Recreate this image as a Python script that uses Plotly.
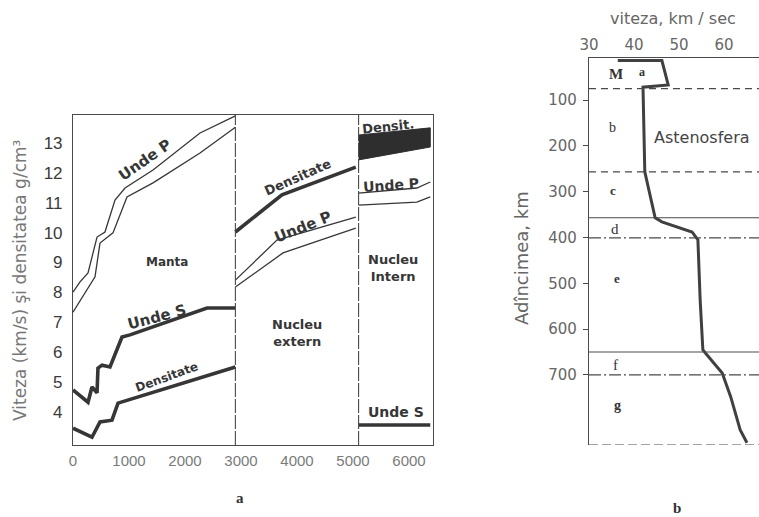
import plotly.graph_objects as go

W, H = 759, 517

# ---------------- Panel a data (depth in km, value) ----------------
p_up_mantle_km = [0, 125, 268, 429, 571, 750, 929, 1429, 2268, 2900]
p_up_mantle_v = [8.01, 8.35, 8.65, 9.85, 10.02, 11.09, 11.49, 12.09, 13.33, 13.90]
p_lo_mantle_km = [0, 214, 393, 482, 714, 964, 1429, 2268, 2900]
p_lo_mantle_v = [7.34, 7.98, 8.52, 9.65, 9.99, 11.19, 11.66, 12.66, 13.52]
s_mantle_km = [0, 268, 339, 429, 446, 518, 661, 875, 1018, 2393, 2900]
s_mantle_v = [4.74, 4.33, 4.84, 4.64, 5.47, 5.57, 5.51, 6.51, 6.58, 7.48, 7.48]
rho_mantle_km = [0, 339, 482, 696, 804, 2900]
rho_mantle_v = [3.46, 3.16, 3.67, 3.73, 4.30, 5.51]

rho_outer_km = [2900, 3732, 5050]
rho_outer_v = [10.02, 11.26, 12.19]
p_up_outer_km = [2900, 3643, 5050]
p_up_outer_v = [8.41, 9.75, 10.52]
p_lo_outer_km = [2900, 3750, 5050]
p_lo_outer_v = [8.18, 9.32, 10.15]

rho_inner_km = [5100, 6380]
rho_inner_top = [13.26, 13.50]
rho_inner_bot = [12.43, 12.86]
p_up_inner_km = [5100, 6140, 6380]
p_up_inner_v = [11.32, 11.49, 11.69]
p_lo_inner_km = [5100, 6140, 6380]
p_lo_inner_v = [10.92, 11.02, 11.19]
s_inner_km = [5100, 6380]
s_inner_v = [3.57, 3.57]

layer_bounds_km = [2900, 5100]
xa_ticks = [0, 1000, 2000, 3000, 4000, 5000, 6000]
ya_ticks = [4, 5, 6, 7, 8, 9, 10, 11, 12, 13]

# ---------------- Panel b data ----------------
vel_b_km = [14, 14, 67, 72, 257, 357, 366, 388, 405, 536, 645, 654, 696, 748, 820, 848]
vel_b_v = [36.4, 46.2, 47.6, 42.0, 42.4, 44.7, 46.2, 52.9, 54.2, 54.7, 55.3, 56.0, 59.6, 61.5, 63.6, 65.1]
zone_bounds_km = [75, 257, 357, 401, 650, 700, 853]
xb_ticks = [30, 40, 50, 60]
yb_ticks = [100, 200, 300, 400, 500, 600, 700]

INK = "#363636"
fig = go.Figure()

def line(x, y, w, xa="x", ya="y", color=INK):
    fig.add_trace(go.Scatter(x=x, y=y, mode="lines", xaxis=xa, yaxis=ya,
                             line=dict(color=color, width=w), hoverinfo="skip",
                             showlegend=False))

# Panel a curves
line(p_up_mantle_km, p_up_mantle_v, 1.3)
line(p_lo_mantle_km, p_lo_mantle_v, 1.3)
line(s_mantle_km, s_mantle_v, 3.6)
line(rho_mantle_km, rho_mantle_v, 3.6)
line(rho_outer_km, rho_outer_v, 3.6)
line(p_up_outer_km, p_up_outer_v, 1.3)
line(p_lo_outer_km, p_lo_outer_v, 1.3)
fig.add_trace(go.Scatter(x=rho_inner_km + rho_inner_km[::-1],
                         y=rho_inner_top + rho_inner_bot[::-1],
                         mode="lines", fill="toself", fillcolor="#2e2e2e",
                         line=dict(color="#2e2e2e", width=1), hoverinfo="skip",
                         showlegend=False))
line(p_up_inner_km, p_up_inner_v, 1.3)
line(p_lo_inner_km, p_lo_inner_v, 1.3)
line(s_inner_km, s_inner_v, 3.6)

# Panel b curve
line(vel_b_v, vel_b_km, 3.0, "x2", "y2", "#404040")

shapes = []
for b in layer_bounds_km:
    shapes.append(dict(type="line", xref="x", yref="y domain", x0=b, x1=b, y0=0, y1=1,
                       line=dict(color="#4a4a4a", width=1.1, dash="14px,2px")))
b_styles = ["7px,5px", "7px,5px", "solid", "12px,3px,2px,3px", "solid", "12px,3px,2px,3px", "9px,4px"]
for b, st in zip(zone_bounds_km, b_styles):
    shapes.append(dict(type="line", xref="x2 domain", yref="y2", x0=0, x1=1, y0=b, y1=b,
                       line=dict(color="#4a4a4a", width=1.2, dash=st)))

def px(x):
    return x / W

def py(y):
    return 1 - y / H

ann = []
def text(x, y, t, size, angle=0, bold=True, family="DejaVu Sans", color=INK, xanchor="center"):
    ann.append(dict(x=px(x), y=py(y), xref="paper", yref="paper", text=t, showarrow=False,
                    textangle=angle, xanchor=xanchor, yanchor="middle",
                    font=dict(size=size, family=family, color=color,
                              weight="bold" if bold else "normal")))

# Panel a labels
text(145, 160, "Unde P", 15, -35)
text(167, 262, "Manta", 12)
text(157, 317, "Unde S", 15, -15)
text(167, 377, "Densitate", 12, -20)
text(297, 177, "Densitate", 13, -24)
text(303, 227, "Unde P", 15, -22)
text(297, 333, "Nucleu<br>extern", 13)
text(388, 126, "Densit.", 13, -6)
text(391, 185, "Unde P", 14, -4)
text(393, 268, "Nucleu<br>Intern", 13)
text(396, 412, "Unde S", 14)
text(20, 281, "Viteza (km/s) şi densitatea g/cm³", 17, -90, False, "DejaVu Sans", "#777")
text(240, 498, "a", 15, 0, True, "Liberation Serif", "#333")

# Panel b labels
text(616, 74, "M", 15, 0, True, "Liberation Serif", "#333")
text(642, 72, "a", 12, 0, True, "Liberation Serif", "#333")
text(612, 127, "b", 14, 0, False, "Liberation Serif", "#333")
text(652, 138, "Astenosfera", 16, 0, False, "DejaVu Sans", "#444", "left")
text(613, 191, "c", 13, 0, True, "Liberation Serif", "#333")
text(615, 229, "d", 15, 0, False, "Liberation Serif", "#333")
text(617, 278, "e", 13, 0, True, "Liberation Serif", "#333")
text(615, 365, "f", 15, 0, False, "Liberation Serif", "#333")
text(617, 405, "g", 14, 0, True, "Liberation Serif", "#333")
text(673, 18, "viteza, km / sec", 16, 0, False, "DejaVu Sans", "#666")
text(521, 258, "Adîncimea, km", 18, -90, False, "DejaVu Sans", "#666")
text(677, 508, "b", 15, 0, True, "Liberation Serif", "#333")

fig.update_layout(
    width=W, height=H, autosize=False,
    margin=dict(l=0, r=0, t=0, b=0, autoexpand=False),
    paper_bgcolor="white", plot_bgcolor="white",
    showlegend=False,
    shapes=shapes, annotations=ann,
    xaxis=dict(domain=[73 / W, 433 / W], range=[0, 6429], anchor="y", automargin=False,
               showgrid=False, zeroline=False, showline=True, mirror=True,
               linecolor="#4a4a4a", linewidth=1.1, ticks="",
               tickvals=xa_ticks, ticktext=[str(t) for t in xa_ticks],
               tickfont=dict(size=15, family="Liberation Sans", color="#7a7a7a"),
               ticklabelstandoff=2),
    yaxis=dict(domain=[(H - 445) / H, (H - 115) / H], range=[2.90, 13.93], anchor="x",
               automargin=False,
               showgrid=False, zeroline=False, showline=True, mirror=True,
               linecolor="#4a4a4a", linewidth=1.1, ticks="",
               tickvals=ya_ticks, ticktext=[str(t) for t in ya_ticks],
               tickfont=dict(size=17, family="Liberation Sans", color="#3a3a3a"),
               ticklabelstandoff=6),
    xaxis2=dict(domain=[589 / W, 1.0], range=[30, 30 + 170 / 4.5], anchor="y2", side="top",
                automargin=False,
                showgrid=False, zeroline=False, showline=True, linecolor="#4a4a4a",
                linewidth=1.3, ticks="", tickvals=xb_ticks,
                ticktext=[str(t) for t in xb_ticks],
                tickfont=dict(size=15, family="DejaVu Sans", color="#666"),
                ticklabelstandoff=1),
    yaxis2=dict(domain=[(H - 445) / H, (H - 58) / H], range=[853, 8.3], anchor="x2",
                automargin=False,
                showgrid=False, zeroline=False, showline=True, linecolor="#4a4a4a",
                linewidth=1.3, ticks="outside", ticklen=5, tickcolor="#4a4a4a",
                tickvals=yb_ticks, ticktext=[str(t) for t in yb_ticks],
                tickfont=dict(size=15, family="DejaVu Sans", color="#666"),
                ticklabelstandoff=3),
)

fig.write_html("out.html", config={"displayModeBar": False},
               post_script="document.body.style.margin='0';document.body.style.overflow='hidden';")
